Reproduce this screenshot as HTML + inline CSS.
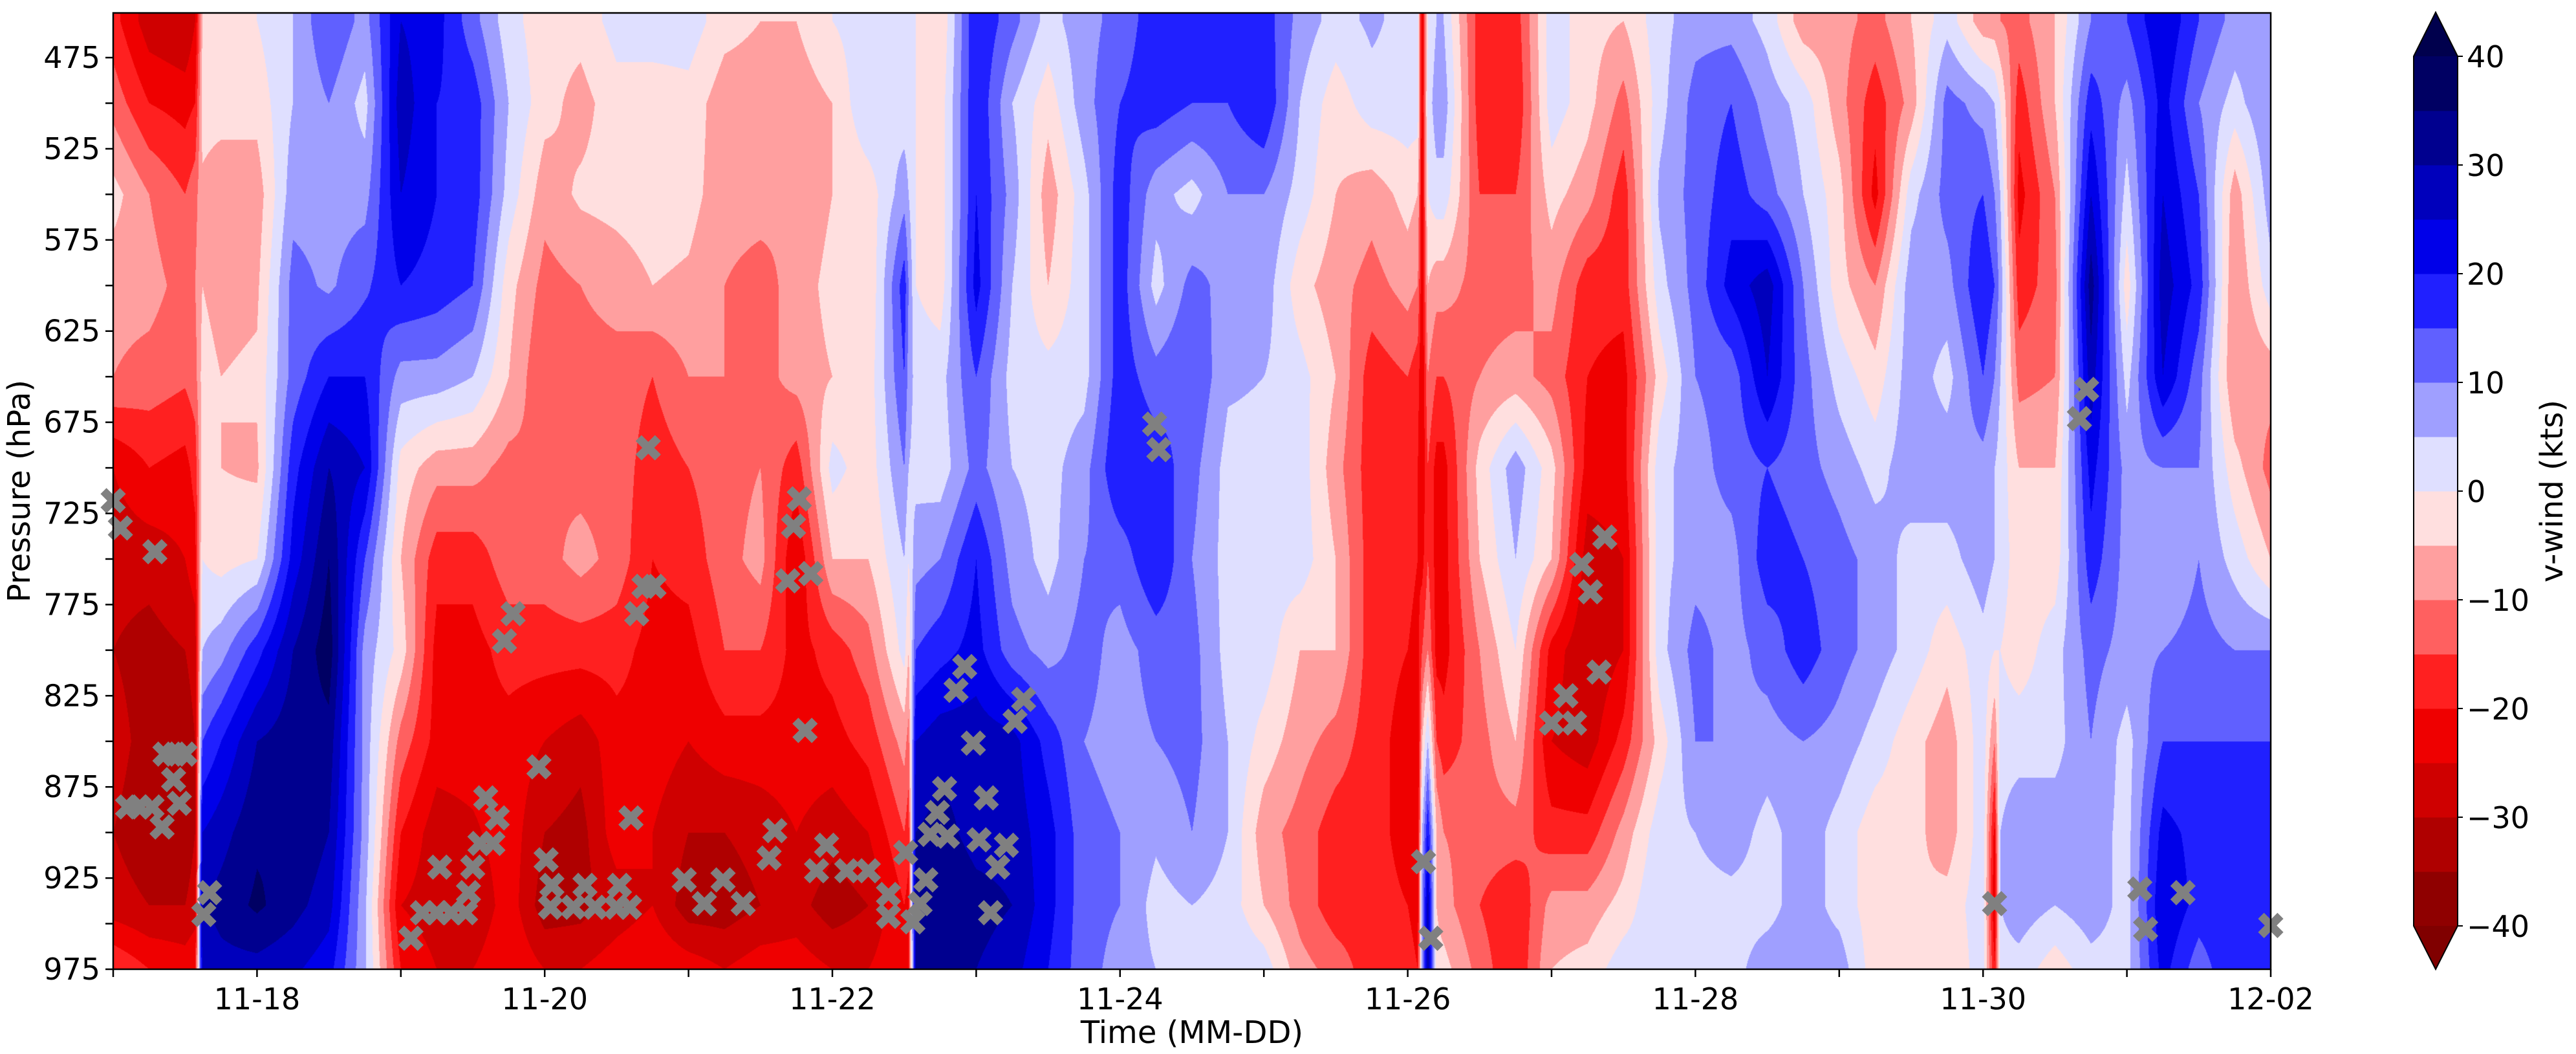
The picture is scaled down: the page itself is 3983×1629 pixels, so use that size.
<!DOCTYPE html>
<html><head><meta charset="utf-8">
<style>
html,body{margin:0;padding:0;background:#fff;}
#wrap{position:relative;width:3983px;height:1629px;overflow:hidden;font-family:"Liberation Sans","DejaVu Sans",sans-serif;}
canvas{position:absolute;left:175px;top:20px;}
svg{position:absolute;left:0;top:0;}
text{font-family:"DejaVu Sans","Liberation Sans",sans-serif;fill:#000;}
</style></head>
<body>
<div id="wrap">
<canvas id="field" width="3336" height="1478"></canvas>
<svg id="ov" width="3983" height="1629"></svg>
</div>
<script>
// ---- data ----
const pressureLevels = [455,500,550,600,650,700,750,800,850,900,940,975];
// time of each column, in days since 11-17 00Z
const times = [0,0.25,0.5,0.57,0.62,0.75,1,1.25,1.5,1.75,2,2.25,2.5,2.75,3,3.25,3.5,3.75,4,4.25,4.5,4.75,5,5.25,5.5,5.53,5.58,5.75,6,6.25,6.5,6.75,7,7.25,7.5,7.75,8,8.25,8.5,8.75,9,9.07,9.1,9.14,9.2,9.25,9.5,9.75,10,10.25,10.5,10.75,11,11.25,11.5,11.75,12,12.25,12.5,12.75,13,13.08,13.12,13.25,13.5,13.75,14,14.25,14.5,14.75,15];
const vwind = [
[-18,-12,-3,-8,-10,-25,-28,-30,-28,-30,-28,-15],
[-28,-20,-10,-8,-12,-20,-28,-32,-32,-33,-30,-20],
[-30,-22,-15,-12,-14,-22,-25,-30,-33,-33,-30,-22],
[-25,-20,-12,-10,-12,-18,-22,-28,-30,-30,-28,-20],
[-5,-3,-6,-5,-3,-3,0,5,15,25,30,25],
[-5,-3,-8,-7,-5,-5,-2,8,20,28,32,28],
[0,-3,-8,-6,-4,-6,0,18,30,34,36,28],
[5,5,8,12,12,18,22,30,33,35,32,26],
[15,10,8,9,20,30,35,38,33,30,27,22],
[8,3,8,14,20,25,15,8,8,8,6,6],
[25,28,25,20,8,-2,-5,-2,-12,-20,-25,-20],
[22,20,20,18,8,-8,-18,-22,-22,-28,-28,-25],
[12,18,18,15,5,-8,-18,-22,-22,-26,-30,-25],
[2,5,3,-3,-5,-12,-12,-18,-22,-22,-22,-20],
[-3,-3,-8,-12,-15,-10,-12,-18,-25,-30,-33,-25],
[-3,-7,-4,-10,-12,-12,-8,-18,-28,-32,-32,-25],
[2,-2,-3,-8,-12,-12,-12,-18,-22,-22,-28,-22],
[3,-3,-2,-5,-15,-18,-20,-22,-22,-25,-25,-20],
[3,-2,-3,-6,-10,-15,-18,-22,-25,-30,-33,-22],
[-3,-8,-8,-10,-10,-12,-12,-15,-22,-30,-33,-25],
[-5,-8,-8,-12,-12,-10,-8,-15,-22,-28,-30,-22],
[-5,-8,-10,-8,-8,-18,-25,-22,-22,-25,-28,-22],
[0,-5,-5,-3,-5,2,-5,-18,-22,-28,-33,-25],
[3,5,-3,-5,-3,-3,-5,-12,-18,-25,-30,-25],
[3,2,8,18,15,10,5,2,-8,-15,-20,-20],
[3,2,5,10,8,5,0,-5,-12,-18,-22,-22],
[0,0,0,0,3,3,8,15,25,30,33,30],
[-5,-3,-3,-3,3,2,10,18,28,32,35,32],
[20,20,20,22,15,12,20,22,28,28,32,30],
[12,5,8,5,3,5,8,12,27,28,30,27],
[3,-3,-8,-5,2,3,3,8,18,22,22,20],
[8,8,3,3,3,8,10,12,10,12,12,12],
[12,15,18,18,18,20,12,8,8,10,10,8],
[18,18,7,3,12,18,20,12,10,6,3,5],
[20,15,3,12,15,12,10,12,12,10,5,3],
[15,15,10,8,6,3,3,3,5,5,3,5],
[18,20,10,8,5,3,2,3,-2,-8,-5,3],
[8,5,3,-3,2,3,3,-5,-8,-12,-12,-8],
[3,-3,-5,-8,-5,-8,-5,-5,-12,-18,-18,-12],
[6,3,-8,-12,-18,-18,-18,-18,-18,-18,-18,-18],
[3,3,-3,-8,-15,-18,-18,-20,-22,-22,-20,-18],
[3,3,-5,-10,-18,-20,-20,-22,-25,-25,-22,-20],
[-25,-25,-25,-25,-25,-25,-22,-15,-5,5,8,8],
[0,2,0,-5,-10,-15,-15,-10,5,20,28,30],
[5,8,3,-8,-15,-22,-22,-22,-15,-5,-5,-3],
[5,8,3,-8,-15,-22,-22,-22,-18,-10,-8,-3],
[-18,-18,-15,-12,-10,-3,-5,-10,-12,-12,-15,-12],
[-18,-20,-15,-12,-8,8,5,0,-5,-12,-20,-20],
[3,3,-3,-8,-12,-3,-5,-22,-25,-18,-8,-5],
[-3,-3,-8,-18,-20,-22,-28,-30,-28,-18,-8,-3],
[-5,-12,-18,-18,-22,-22,-25,-25,-18,-8,-3,3],
[3,3,6,3,-3,3,3,3,-3,3,5,3],
[8,12,12,12,10,8,8,12,10,5,3,3],
[8,15,18,22,12,12,8,8,10,8,3,3],
[3,8,12,28,25,15,18,12,8,3,3,8],
[-8,3,5,10,12,12,15,18,10,8,8,8],
[-8,-8,-3,-3,3,8,12,12,8,3,3,8],
[-12,-18,-22,-10,-3,3,8,8,3,-3,-3,-3],
[-5,-8,3,8,8,8,3,3,-3,-3,-5,-3],
[3,12,12,8,3,8,3,-3,-8,-8,-3,-5],
[-8,8,15,20,15,8,8,3,3,3,3,3],
[-8,5,10,15,10,5,5,0,-10,-22,-25,-20],
[-10,0,5,8,5,3,3,0,3,5,5,3],
[-12,-18,-22,-18,-12,-5,-3,-3,3,8,8,3],
[-5,-5,-10,-12,-10,-5,-3,3,3,8,5,-3],
[10,18,25,33,28,22,18,12,10,8,8,3],
[15,8,3,-3,3,8,8,8,3,3,3,3],
[25,22,25,28,25,10,5,10,15,22,25,22],
[15,10,15,18,12,10,10,12,15,18,18,12],
[8,3,-8,-10,-10,-3,3,10,15,20,20,20],
[8,10,8,3,-8,-12,-5,10,15,18,18,18]
];
const markerDays = [0,0.05,0.29,0.36,0.43,0.5,0.42,0.46,0.1,0.18,0.27,0.34,0.67,0.63,
2.78,2.72,2.96,2.59,2.67,2.55,2.64,2.27,2.5,2.47,2.15,2.25,2.35,2.45,2.07,
3.72,3.69,3.76,3.64,3.6,3.01,3.05,3.28,3.52,3.04,3.2,3.35,3.5,3.59,
4.77,4.73,4.69,4.85,4.81,4.6,4.56,3.97,4.24,4.11,4.38,4.96,4.89,5.1,5.25,5.39,5.39,5.51,5.56,5.61,5.65,5.68,5.8,5.73,5.78,5.86,5.92,5.98,6.07,6.02,6.21,6.15,6.1,6.33,6.27,7.24,7.27,
9.11,9.16,10.37,10.21,10.27,10.33,10.1,10.0,10.16,
13.72,13.67,13.08,14.09,14.13,14.39,15.0];
const markerPressures = [718,733,746,857,857,857,871,884,886,886,886,897,933,945,
780,795,864,881,892,906,906,919,919,933,944,944,944,944,958,
689,765,765,780,892,915,929,929,929,941,941,941,941,941,
717,732,762,758,844,899,914,926,926,939,939,907,921,921,921,934,946,911,949,939,926,901,902,889,876,822,809,851,881,904,907,919,944,827,839,676,690,
916,958,738,753,768,812,825,840,840,
657,673,939,931,953,933,951];
const yTickValues = [475,500,525,550,575,600,625,650,675,700,725,750,775,800,825,850,875,900,925,950,975];
const xTickLabels = ["11-18","11-20","11-22","11-24","11-26","11-28","11-30","12-02"];
const cbarTicks = [-40,-30,-20,-10,0,10,20,30,40];
const levels = [-40,-35,-30,-25,-20,-15,-10,-5,0,5,10,15,20,25,30,35,40];

// ---- geometry ----
const PL=175, PT=20, PW=3336, PH=1478, DAYS=15, PTOP=450.5, PBOT=975;
const xOf = d => PL + d/DAYS*PW;
const yOf = p => PT + (p-PTOP)/(PBOT-PTOP)*PH;

function seismic(t){
  const st=[[0,[0,0,0.3]],[0.25,[0,0,1]],[0.5,[1,1,1]],[0.75,[1,0,0]],[1,[0.5,0,0]]];
  for(let i=0;i<4;i++){const a=st[i],b=st[i+1];
    if(t<=b[0]){const f=(t-a[0])/(b[0]-a[0]);return a[1].map((v,k)=>Math.round(255*(v+(b[1][k]-v)*f)));}}
  return [128,0,0];
}
const colorOfMid = m => seismic(1-(m+40)/80);
const bandColors=[]; for(let i=0;i<levels.length-1;i++) bandColors.push(colorOfMid((levels[i]+levels[i+1])/2));
const underC=seismic(1), overC=seismic(0);
const rgb=c=>`rgb(${c[0]},${c[1]},${c[2]})`;
function colorOf(v){
  if(v<levels[0]) return underC;
  if(v>=levels[levels.length-1]) return overC;
  const i=Math.min(levels.length-2,Math.floor((v-levels[0])/5));
  return bandColors[i];
}

// ---- field ----
(function(){
  const cv=document.getElementById('field'), ctx=cv.getContext('2d');
  const img=ctx.createImageData(PW,PH), D=img.data;
  const nT=times.length, nP=pressureLevels.length;
  const rowI=new Int32Array(PH), rowF=new Float32Array(PH);
  for(let y=0;y<PH;y++){
    const p=PTOP+(y+0.5)/PH*(PBOT-PTOP);
    let j=0; while(j<nP-2 && p>pressureLevels[j+1]) j++;
    let f=(p-pressureLevels[j])/(pressureLevels[j+1]-pressureLevels[j]);
    rowI[y]=j; rowF[y]=Math.max(0,Math.min(1,f));
  }
  for(let x=0;x<PW;x++){
    const d=(x+0.5)/PW*DAYS;
    let ti=0; while(ti<nT-2 && d>times[ti+1]) ti++;
    const tf=Math.max(0,Math.min(1,(d-times[ti])/(times[ti+1]-times[ti])));
    const c0=vwind[ti], c1=vwind[ti+1];
    for(let y=0;y<PH;y++){
      const j=rowI[y], f=rowF[y];
      const a=c0[j]+(c0[j+1]-c0[j])*f, b=c1[j]+(c1[j+1]-c1[j])*f;
      const c=colorOf(a+(b-a)*tf);
      const k=(y*PW+x)*4; D[k]=c[0];D[k+1]=c[1];D[k+2]=c[2];D[k+3]=255;
    }
  }
  ctx.putImageData(img,0,0);
})();

// ---- overlay ----
const NS='http://www.w3.org/2000/svg';
const svg=document.getElementById('ov');
function mk(tag,attrs,parent){const e=document.createElementNS(NS,tag);for(const k in attrs)e.setAttribute(k,attrs[k]);(parent||svg).appendChild(e);return e;}

const mg=mk('g',{});


for(let i=0;i<markerDays.length;i++){
  const cx=xOf(markerDays[i]), cy=yOf(markerPressures[i]), r=15;
  const m=mk('path',{d:`M${cx-r},${cy-r}L${cx+r},${cy+r}M${cx-r},${cy+r}L${cx+r},${cy-r}`,stroke:'#808080','stroke-width':13,fill:'none'},mg);
  
  
}
const fr=mk('rect',{x:PL,y:PT,width:PW,height:PH,fill:'none',stroke:'#000','stroke-width':2.5});



yTickValues.forEach((p,i)=>{
  const y=yOf(p);
  const t=mk('line',{x1:PL-12,x2:PL,y1:y,y2:y,stroke:'#000','stroke-width':2.5});
  
  
  if(i%2===0){
    const l=mk('text',{x:PL-20,y:y+16,'text-anchor':'end','font-size':46});
    l.textContent=p;
    
    
  }
});
for(let d=0;d<=DAYS;d++){
  const x=xOf(d);
  const t=mk('line',{x1:x,x2:x,y1:PT+PH,y2:PT+PH+12,stroke:'#000','stroke-width':2.5});
  
  
  if(d%2===1){
    const l=mk('text',{x:x,y:PT+PH+62,'text-anchor':'middle','font-size':46});
    l.textContent=xTickLabels[(d-1)/2];
    
    
  }
}
const xt=mk('text',{x:PL+PW/2,y:1612,'text-anchor':'middle','font-size':48});
xt.textContent='Time (MM-DD)';


const yt=mk('text',{x:0,y:0,'text-anchor':'middle','font-size':48,transform:`translate(46,${PT+PH/2}) rotate(-90)`});
yt.textContent='Pressure (hPa)';



const CBX=3732, CBW=68, CBT=87, CBB=1431;
const cbY=v=>CBB-(v+40)/80*(CBB-CBT);
const cb=mk('g',{});


bandColors.forEach((c,i)=>{
  const y1=cbY(levels[i+1]), y0=cbY(levels[i]);
  const r=mk('rect',{x:CBX,y:y1,width:CBW,height:y0-y1+0.5,fill:rgb(c)},cb);
  
  
});
const ov=mk('path',{d:`M${CBX},${CBT}L${CBX+CBW/2},19L${CBX+CBW},${CBT}Z`,fill:rgb(overC)},cb);


const un=mk('path',{d:`M${CBX},${CBB}L${CBX+CBW/2},1498L${CBX+CBW},${CBB}Z`,fill:rgb(underC)},cb);


const ol=mk('path',{d:`M${CBX},${CBT}L${CBX+CBW/2},19L${CBX+CBW},${CBT}L${CBX+CBW},${CBB}L${CBX+CBW/2},1498L${CBX},${CBB}Z`,fill:'none',stroke:'#000','stroke-width':2},cb);


cbarTicks.forEach(v=>{
  const y=cbY(v);
  const t=mk('line',{x1:CBX+CBW,x2:CBX+CBW+8,y1:y,y2:y,stroke:'#000','stroke-width':2},cb);
  
  
  const l=mk('text',{x:CBX+CBW+14,y:y+17,'font-size':46},cb);
  l.textContent=v<0?'\u2212'+(-v):String(v);
  
  
});
const cl=mk('text',{x:0,y:0,'text-anchor':'middle','font-size':48,transform:`translate(3962,${(CBT+CBB)/2}) rotate(-90)`});
cl.textContent='v-wind (kts)';


</script>
</body></html>
